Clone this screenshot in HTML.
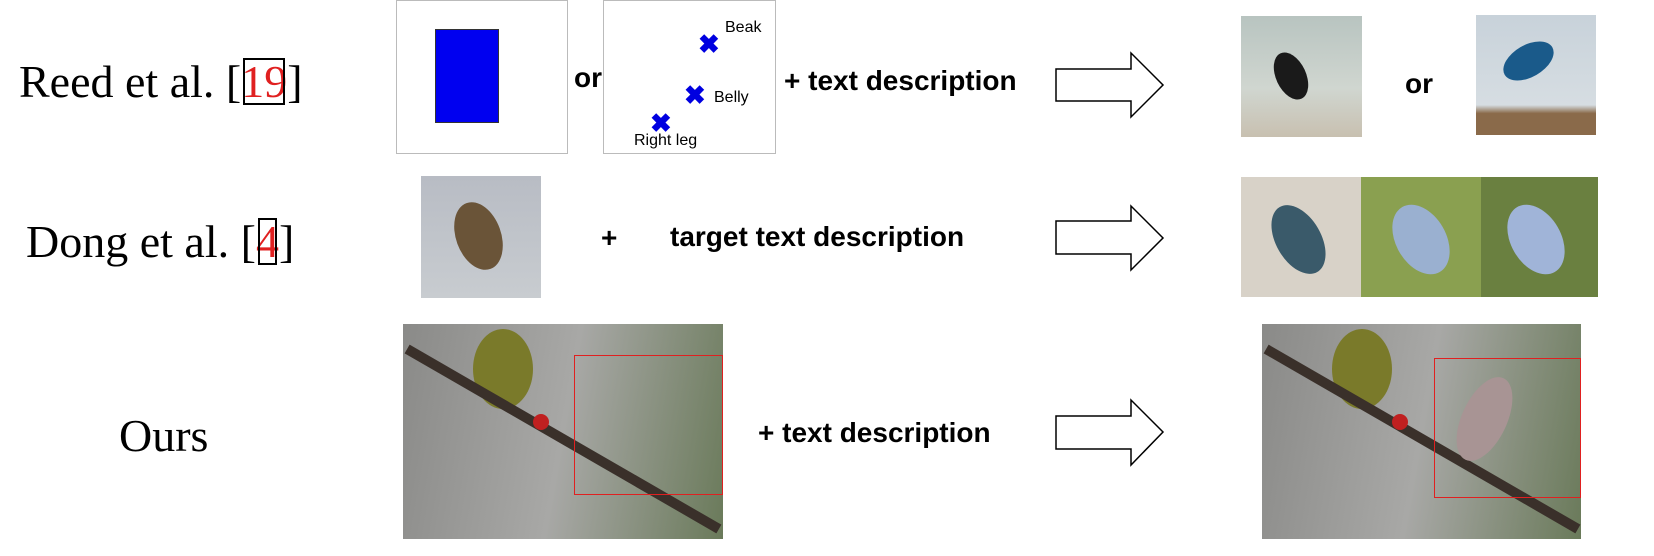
<!DOCTYPE html>
<html><head><meta charset="utf-8"><style>
body{margin:0;width:1654px;height:556px;background:#fff;position:relative;overflow:hidden}
.a{position:absolute}
.lbl{font-family:"Liberation Serif",serif;font-size:46px;color:#000;white-space:nowrap;line-height:1}
.t{font-family:"Liberation Sans",sans-serif;font-weight:bold;font-size:28px;white-space:nowrap;line-height:1}
.ref{color:#e02020;outline:2px solid #000;outline-offset:-4px}
</style></head><body>
<div class="a lbl" style="left:19px;top:59px">Reed et al. [<span class="ref">19</span>]</div>
<div class="a lbl" style="left:26px;top:219px">Dong et al. [<span class="ref">4</span>]</div>
<div class="a lbl" style="left:119px;top:413px">Ours</div>

<div class="a" style="left:396px;top:0;width:172px;height:154px;border:1px solid #bbb;box-sizing:border-box">
 <div class="a" style="left:38px;top:28px;width:62px;height:92px;background:#0000f0;border:1px solid #333"></div>
</div>
<div class="a t" style="left:574px;top:64px">or</div>
<div class="a" style="left:603px;top:0;width:173px;height:154px;border:1px solid #bbb;box-sizing:border-box;font-family:'Liberation Sans',sans-serif;font-size:16px">
 <div class="a" style="left:121px;top:27px;color:#000;transform:translate(0,-50%)">Beak</div>
 <div class="a" style="left:94px;top:30px;color:#0000e0;font-size:26px;font-weight:bold;line-height:1">✖</div>
 <div class="a" style="left:80px;top:81px;color:#0000e0;font-size:26px;font-weight:bold;line-height:1">✖</div>
 <div class="a" style="left:110px;top:97px;color:#000;transform:translate(0,-50%)">Belly</div>
 <div class="a" style="left:46px;top:109px;color:#0000e0;font-size:26px;font-weight:bold;line-height:1">✖</div>
 <div class="a" style="left:30px;top:140px;color:#000;transform:translate(0,-50%)">Right leg</div>
</div>
<div class="a t" style="left:784px;top:67px">+ text description</div>
<div class="a t" style="left:601px;top:224px">+</div>
<div class="a t" style="left:670px;top:223px">target text description</div>
<div class="a t" style="left:758px;top:419px">+ text description</div>

<svg class="a" style="left:0;top:0" width="1654" height="556">
 <g fill="#fff" stroke="#000" stroke-width="1.5">
  <polygon points="1056,69 1131,69 1131,53 1163,85 1131,117 1131,101 1056,101"/>
  <polygon points="1056,221 1131,221 1131,206 1163,238 1131,270 1131,254 1056,254"/>
  <polygon points="1056,416 1131,416 1131,400 1163,432 1131,465 1131,449 1056,449"/>
 </g>
</svg>

<div class="a" style="left:1241px;top:16px;width:121px;height:121px;background:linear-gradient(#b8c4c0,#d0d6d0 60%,#c8c0b0)">
 <div class="a" style="left:35px;top:35px;width:30px;height:50px;background:#1a1a1a;border-radius:50%;transform:rotate(-25deg)"></div></div>
<div class="a t" style="left:1405px;top:70px">or</div>
<div class="a" style="left:1476px;top:15px;width:120px;height:120px;background:linear-gradient(#c8d2da,#d6dde2 75%,#8a6a4a 82%)">
 <div class="a" style="left:25px;top:30px;width:55px;height:32px;background:#1a5a8a;border-radius:50%;transform:rotate(-30deg)"></div></div>

<div class="a" style="left:421px;top:176px;width:120px;height:122px;background:linear-gradient(#b8bcc4,#c8ccd0)">
 <div class="a" style="left:35px;top:25px;width:45px;height:70px;background:#6a5438;border-radius:50%;transform:rotate(-20deg)"></div></div>
<div class="a" style="left:1241px;top:177px;width:357px;height:120px;display:flex">
 <div style="width:120px;background:#d8d2c8;position:relative"><div class="a" style="left:35px;top:25px;width:45px;height:75px;background:#3a5a6a;border-radius:50%;transform:rotate(-30deg)"></div></div>
 <div style="width:120px;background:#8aa050;position:relative"><div class="a" style="left:35px;top:25px;width:50px;height:75px;background:#9ab0d0;border-radius:50%;transform:rotate(-30deg)"></div></div>
 <div style="width:117px;background:#6a8040;position:relative"><div class="a" style="left:30px;top:25px;width:50px;height:75px;background:#a0b4d8;border-radius:50%;transform:rotate(-30deg)"></div></div>
</div>

<div class="a" style="left:403px;top:324px;width:320px;height:215px;background:linear-gradient(100deg,#8a8a88,#a8a8a6 50%,#6a7a5a);overflow:hidden">
 <div class="a" style="left:70px;top:5px;width:60px;height:80px;background:#7a7a2a;border-radius:50%"></div>
 <div class="a" style="left:-20px;top:110px;width:360px;height:10px;background:#3a302a;transform:rotate(30deg)"></div>
 <div class="a" style="left:130px;top:90px;width:16px;height:16px;background:#c02020;border-radius:50%"></div>
 <div class="a" style="left:171px;top:31px;width:149px;height:140px;border:1.5px solid #e02020;box-sizing:border-box"></div>
</div>
<div class="a" style="left:1262px;top:324px;width:319px;height:215px;background:linear-gradient(100deg,#8a8a88,#a8a8a6 50%,#6a7a5a);overflow:hidden">
 <div class="a" style="left:70px;top:5px;width:60px;height:80px;background:#7a7a2a;border-radius:50%"></div>
 <div class="a" style="left:-20px;top:110px;width:360px;height:10px;background:#3a302a;transform:rotate(30deg)"></div>
 <div class="a" style="left:130px;top:90px;width:16px;height:16px;background:#c02020;border-radius:50%"></div>
 <div class="a" style="left:200px;top:50px;width:45px;height:90px;background:#a89494;border-radius:50%;transform:rotate(25deg)"></div>
 <div class="a" style="left:172px;top:34px;width:147px;height:140px;border:1.5px solid #e02020;box-sizing:border-box"></div>
</div>
</body></html>
